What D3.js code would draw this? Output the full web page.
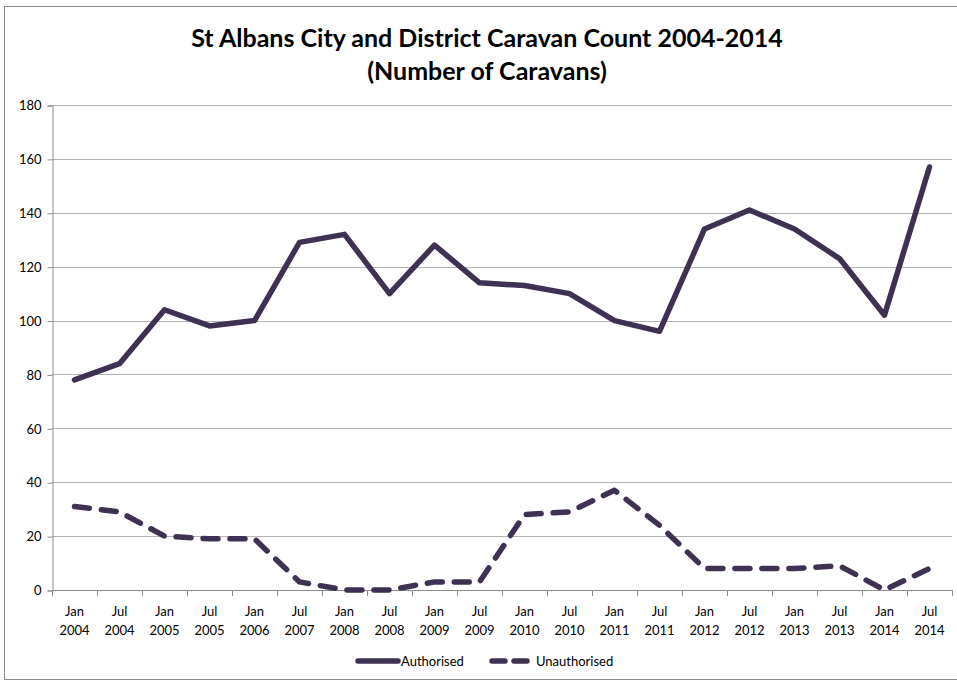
<!DOCTYPE html>
<html>
<head>
<meta charset="utf-8">
<script src="https://cdn.jsdelivr.net/npm/d3@7"></script>
<style>
  body { margin: 0; background: #fff; }
  svg { display: block; font-family: Lato, "Open Sans", sans-serif; }
</style>
</head>
<body>
<svg id="chart" width="957" height="682"></svg>
<script>
// categories (x axis, two-line labels)
const months = ['Jan', 'Jul', 'Jan', 'Jul', 'Jan', 'Jul', 'Jan', 'Jul', 'Jan', 'Jul',
  'Jan', 'Jul', 'Jan', 'Jul', 'Jan', 'Jul', 'Jan', 'Jul', 'Jan', 'Jul'];
const years = ['2004', '2004', '2005', '2005', '2006', '2007', '2008', '2008', '2009', '2009',
  '2010', '2010', '2011', '2011', '2012', '2012', '2013', '2013', '2014', '2014'];

// series values
const authorised = [78, 84, 104, 98, 100, 129, 132, 110, 128, 114,
  113, 110, 100, 96, 134, 141, 134, 123, 102, 157];
const unauthorised = [31, 29, 20, 19, 19, 3, 0, 0, 3, 3,
  28, 29, 37, 24, 8, 8, 8, 9, 0, 8];

const yTicks = [0, 20, 40, 60, 80, 100, 120, 140, 160, 180];

const lineColor = '#3f3151';
const svg = d3.select('#chart');

// outer chart border
svg.append('rect')
  .attr('x', 4.5).attr('y', 6.5)
  .attr('width', 960).attr('height', 673)
  .attr('fill', 'none')
  .attr('stroke', '#8c8c8c')
  .attr('stroke-width', 1);

const plot = {left: 52, right: 952, top: 105, bottom: 590};
const keys = months.map((m, i) => i);

const x = d3.scaleBand()
  .domain(keys)
  .range([plot.left, plot.right]);

const y = d3.scaleLinear()
  .domain([0, 180])
  .range([plot.bottom, plot.top]);

// title
const title = svg.append('text')
  .attr('x', 487)
  .attr('text-anchor', 'middle')
  .style('font-size', '25px')
  .style('font-weight', 'bold')
  .attr('fill', '#000');
title.append('tspan').attr('x', 487).attr('y', 47)
  .text('St Albans City and District Caravan Count 2004-2014');
title.append('tspan').attr('x', 487).attr('y', 80)
  .text('(Number of Caravans)');

// gridlines
svg.append('g')
  .selectAll('line')
  .data(yTicks.filter(d => d > 0))
  .join('line')
  .attr('x1', plot.left).attr('x2', plot.right)
  .attr('y1', d => Math.round(y(d)) + 0.5)
  .attr('y2', d => Math.round(y(d)) + 0.5)
  .attr('stroke', '#b3b3b3')
  .attr('stroke-width', 1);

// y axis
const yAxis = svg.append('g')
  .attr('transform', `translate(${plot.left + 0.5},0.5)`)
  .call(d3.axisLeft(y).tickValues(yTicks).tickSize(5).tickPadding(6));
yAxis.select('.domain').attr('stroke', '#8c8c8c');
yAxis.selectAll('.tick line').attr('stroke', '#8c8c8c');
yAxis.selectAll('.tick text')
  .style('font-size', '13px')
  .style('font-family', 'Lato, sans-serif')
  .attr('fill', '#000');

// x axis: ticks at category boundaries
const xg = svg.append('g');
xg.append('line')
  .attr('x1', plot.left).attr('x2', plot.right)
  .attr('y1', plot.bottom + 0.5).attr('y2', plot.bottom + 0.5)
  .attr('stroke', '#8c8c8c');
xg.selectAll('line.tk')
  .data(keys.concat([keys.length]))
  .join('line')
  .attr('class', 'tk')
  .attr('x1', d => Math.round(d < keys.length ? x(d) : plot.right) + 0.5)
  .attr('x2', d => Math.round(d < keys.length ? x(d) : plot.right) + 0.5)
  .attr('y1', plot.bottom)
  .attr('y2', plot.bottom + 6)
  .attr('stroke', '#8c8c8c');
const lbl = xg.selectAll('text')
  .data(keys)
  .join('text')
  .attr('text-anchor', 'middle')
  .style('font-size', '13px')
  .attr('fill', '#000');
lbl.append('tspan')
  .attr('x', d => x(d) + x.bandwidth() / 2)
  .attr('y', 616)
  .text(d => months[d]);
lbl.append('tspan')
  .attr('x', d => x(d) + x.bandwidth() / 2)
  .attr('y', 635)
  .text(d => years[d]);

// lines
const line = d3.line()
  .x((d, i) => x(i) + x.bandwidth() / 2)
  .y(d => y(d));

svg.append('path')
  .datum(authorised)
  .attr('d', line)
  .attr('fill', 'none')
  .attr('stroke', lineColor)
  .attr('stroke-width', 5.5)
  .attr('stroke-linejoin', 'round')
  .attr('stroke-linecap', 'round');

svg.append('path')
  .datum(unauthorised)
  .attr('d', line)
  .attr('fill', 'none')
  .attr('stroke', lineColor)
  .attr('stroke-width', 5.5)
  .attr('stroke-linejoin', 'round')
  .attr('stroke-linecap', 'round')
  .attr('stroke-dasharray', '15 12');

// legend
const legend = svg.append('g').style('font-size', '13px');
legend.append('line')
  .attr('x1', 358).attr('x2', 398)
  .attr('y1', 661).attr('y2', 661)
  .attr('stroke', lineColor).attr('stroke-width', 5.5)
  .attr('stroke-linecap', 'round');
legend.append('text')
  .attr('x', 401).attr('y', 666)
  .text('Authorised');
legend.append('line')
  .attr('x1', 492).attr('x2', 531)
  .attr('y1', 661).attr('y2', 661)
  .attr('stroke', lineColor).attr('stroke-width', 5.5)
  .attr('stroke-linecap', 'round')
  .attr('stroke-dasharray', '13 9');
legend.append('text')
  .attr('x', 536).attr('y', 666)
  .text('Unauthorised');
</script>
</body>
</html>
